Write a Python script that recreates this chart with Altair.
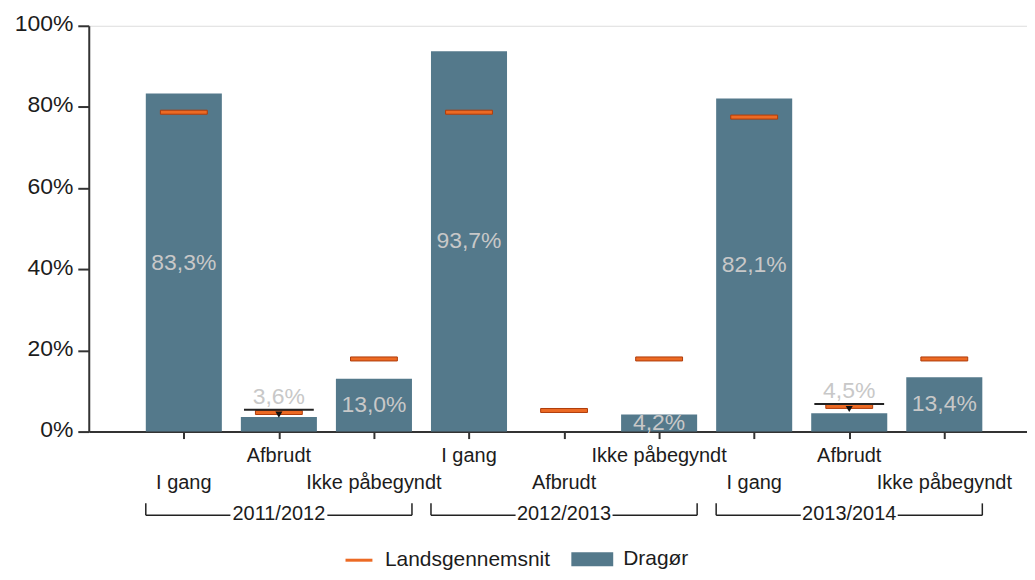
import altair as alt
import pandas as pd

# ---- data ----
years = ["2011/2012", "2012/2013", "2013/2014"]
statuses = ["I gang", "Afbrudt", "Ikke påbegyndt"]
dragor = [83.3, 3.6, 13.0, 93.7, None, 4.2, 82.1, 4.5, 13.4]
national = [78.7, 4.7, 17.9, 78.7, 5.2, 17.9, 77.5, 6.2, 17.9]
marker = [None, 5.4, None, None, None, None, None, 6.8, None]
y_ticks = [0, 20, 40, 60, 80, 100]

rows = []
k = 0
for y in years:
    for s in statuses:
        rows.append({"pos": k + 1, "year": y, "status": s,
                     "dragor": dragor[k], "national": national[k], "marker": marker[k]})
        k += 1
df = pd.DataFrame(rows)

FONT = "Liberation Sans"
TXT = "#1c1c1c"
BLUE = "#54798b"
ORANGE = "#ec6a24"

xscale = alt.Scale(domain=[0, 9.87], nice=False, zero=False)
yscale = alt.Scale(domain=[0, 100], nice=False)


def X(field):
    return alt.X(field, scale=xscale, title=None)


def Y(field):
    return alt.Y(field, scale=yscale, title=None)


base = alt.Chart(df)

bars = base.transform_filter("isValid(datum.dragor)").transform_calculate(
    x0="datum.pos - 0.4", x1="datum.pos + 0.4", series="'Dragør'"
).mark_bar(strokeWidth=0).encode(
    x=alt.X("x0:Q", scale=xscale, title=None,
            axis=alt.Axis(values=list(df["pos"]), labels=False, title=None, grid=False,
                          tickSize=7, tickWidth=2, tickColor="#333", domainColor="#333",
                          domainWidth=2)),
    x2="x1:Q",
    y=alt.Y("dragor:Q", scale=yscale, title=None,
            axis=alt.Axis(values=y_ticks, labelExpr="datum.value + '%'", title=None, grid=False,
                          tickSize=11, tickWidth=2, tickColor="#333", domainColor="#333",
                          domainWidth=2, labelFontSize=23, labelFont=FONT, labelColor=TXT,
                          labelPadding=5, labelOffset=-2)),
    y2=alt.datum(0),
    color=alt.Color("series:N", scale=alt.Scale(domain=["Dragør"], range=[BLUE]),
                    legend=alt.Legend(title=None, orient="none", legendX=491, legendY=521,
                                      symbolType="M-1.5,-0.5H1.5V0.5H-1.5Z", symbolSize=784,
                                      symbolStrokeWidth=0, symbolOpacity=1, labelOffset=17,
                                      padding=0, labelFontSize=21, labelFont=FONT,
                                      labelColor=TXT, labelLimit=400)),
)

nat = base.transform_calculate(series="'Landsgennemsnit'").mark_tick(
    orient="horizontal", size=47, thickness=4, stroke="#b03c0a", strokeWidth=1, filled=True,
    opacity=1
).encode(
    x=X("pos:Q"),
    y=Y("national:Q"),
    color=alt.Color("series:N", scale=alt.Scale(domain=["Landsgennemsnit"], range=[ORANGE]),
                    legend=alt.Legend(title=None, orient="none", legendX=256, legendY=521,
                                      symbolType="stroke", symbolSize=729,
                                      symbolStrokeWidth=3, symbolStrokeColor=ORANGE,
                                      symbolOpacity=1, labelOffset=11, padding=0,
                                      labelFontSize=21, labelFont=FONT, labelColor=TXT,
                                      labelLimit=400)),
)

mk = base.transform_filter("isValid(datum.marker)")
mline = mk.mark_tick(orient="horizontal", size=70, thickness=2, color="#222", opacity=1).encode(
    x=X("pos:Q"),
    y=Y("marker:Q"),
)
mtri = mk.mark_point(shape="triangle-down", filled=True, size=50, color="#111", opacity=1,
                     yOffset=5).encode(
    x=X("pos:Q"),
    y=Y("marker:Q"),
)

lab_expr = "replace(format(datum.dragor, '.1f'), '.', ',') + '%'"
vlab_mid = base.transform_filter("isValid(datum.dragor) && !isValid(datum.marker)").transform_calculate(
    lab=lab_expr, mid="datum.dragor / 2"
).mark_text(fontSize=23, font=FONT, color="#c8c8c8", baseline="middle").encode(
    x=X("pos:Q"),
    y=Y("mid:Q"),
    text="lab:N",
)
vlab_top = base.transform_filter("isValid(datum.dragor) && isValid(datum.marker)").transform_calculate(
    lab=lab_expr
).mark_text(fontSize=23, font=FONT, color="#c8c8c8", baseline="middle", dy=-13).encode(
    x=X("pos:Q"),
    y=Y("marker:Q"),
    text="lab:N",
)

cat_up = base.transform_filter("datum.pos % 2 == 0").mark_text(
    fontSize=20, font=FONT, color=TXT, baseline="middle").encode(
    x=X("pos:Q"), y=alt.value(432), text="status:N")
cat_low = base.transform_filter("datum.pos % 2 == 1").mark_text(
    fontSize=20, font=FONT, color=TXT, baseline="middle").encode(
    x=X("pos:Q"), y=alt.value(459), text="status:N")

grp = base.transform_aggregate(
    pmin="min(pos)", pmax="max(pos)", groupby=["year"]
).transform_calculate(
    start="datum.pmin - 0.4", end="datum.pmax + 0.4",
    center="(datum.pmin + datum.pmax) / 2",
    gl="(datum.pmin + datum.pmax) / 2 - 0.51", gr="(datum.pmin + datum.pmax) / 2 + 0.51",
)
BR = "#222"
br_l = grp.mark_rule(color=BR, strokeWidth=1.5).encode(
    x=X("start:Q"), y=alt.value(479), y2=alt.value(491))
br_r = grp.mark_rule(color=BR, strokeWidth=1.5).encode(
    x=X("end:Q"), y=alt.value(479), y2=alt.value(491))
br_hl = grp.mark_rule(color=BR, strokeWidth=1.5).encode(
    x=X("start:Q"), x2="gl:Q", y=alt.value(491))
br_hr = grp.mark_rule(color=BR, strokeWidth=1.5).encode(
    x=X("gr:Q"), x2="end:Q", y=alt.value(491))
yr_txt = grp.mark_text(fontSize=20, font=FONT, color=TXT, baseline="middle").encode(
    x=X("center:Q"), y=alt.value(490), text="year:N")

chart = alt.layer(
    bars, nat, mline, mtri, vlab_mid, vlab_top, cat_up, cat_low,
    br_l, br_r, br_hl, br_hr, yr_txt
).resolve_scale(color="independent").properties(
    width=941, height=407, autosize="none",
    padding={"left": 81, "top": 17, "right": 0, "bottom": 140},
).configure_view(strokeWidth=0).configure(background="white")

chart.save("out.html", embed_options={"renderer": "svg", "actions": False})
